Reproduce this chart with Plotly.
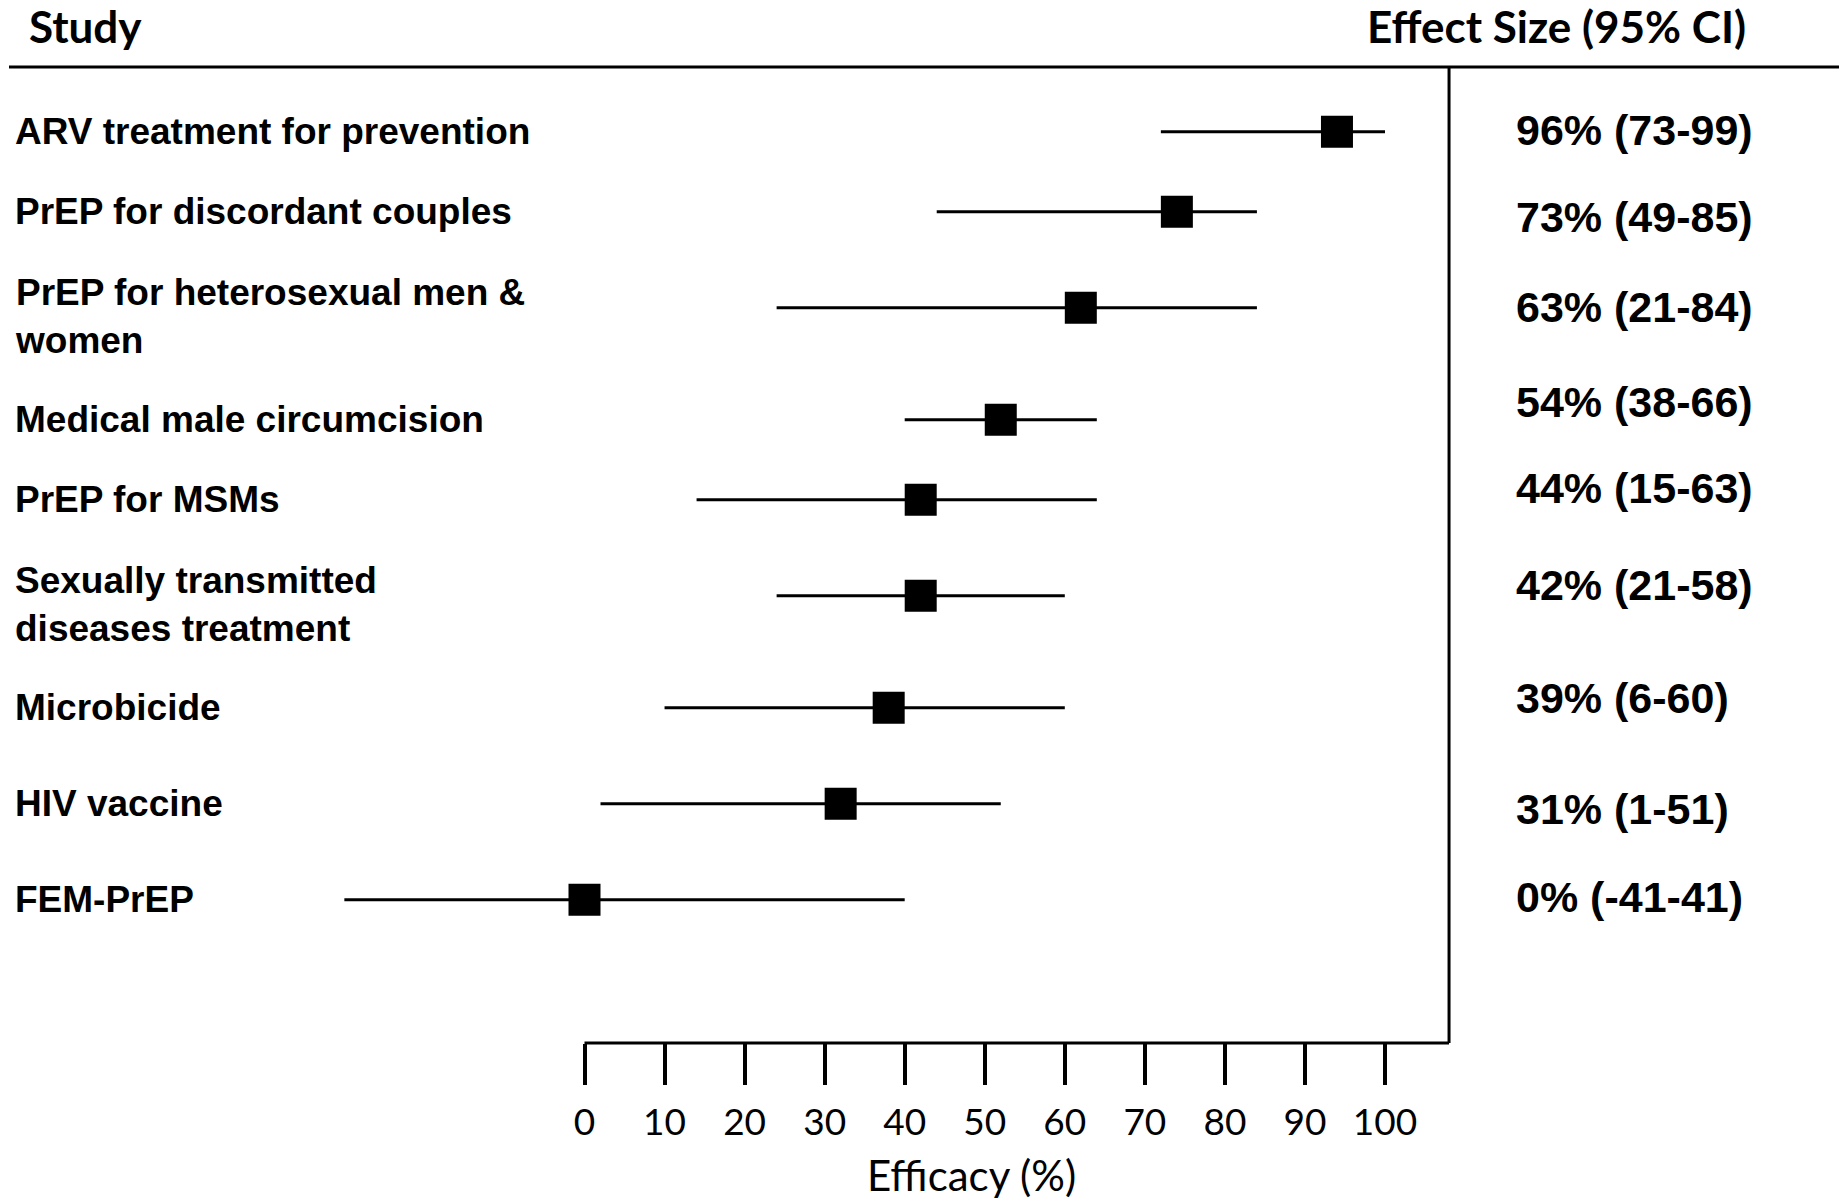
import plotly.graph_objects as go

# ---------------- data ----------------
studies = [
    "ARV treatment for prevention",
    "PrEP for discordant couples",
    "PrEP for heterosexual men &<br>women",
    "Medical male circumcision",
    "PrEP for MSMs",
    "Sexually transmitted<br>diseases treatment",
    "Microbicide",
    "HIV vaccine",
    "FEM-PrEP",
]
effect = [94, 74, 62, 52, 42, 42, 38, 32, 0]
ci_low = [72, 44, 24, 40, 14, 24, 10, 2, -30]
ci_high = [100, 84, 84, 64, 64, 60, 60, 52, 40]
effect_labels = [
    "96% (73-99)",
    "73% (49-85)",
    "63% (21-84)",
    "54% (38-66)",
    "44% (15-63)",
    "42% (21-58)",
    "39% (6-60)",
    "31% (1-51)",
    "0% (-41-41)",
]
row_pos = [0, 1, 2.2, 3.6, 4.6, 5.8, 7.2, 8.4, 9.6]
tick_values = [0, 10, 20, 30, 40, 50, 60, 70, 80, 90, 100]
x_title = "Efficacy (%)"
header_left = "Study"
header_right = "Effect Size (95% CI)"

# ---------------- layout geometry ----------------
W, H = 1839, 1204
x0_px = 584.5          # pixel of value 0
px_per_unit = 8.005    # pixels per 1 %
row0_px = 131.7        # pixel of first row
px_per_row = 80.0
axis_px = 1043         # pixel of the x axis line
header_px = 67         # pixel of header rule
frame_right = 108      # x value of the right vertical rule
effect_text_y = [-0.02, 1.07, 2.19, 3.38, 4.45, 5.67, 7.08, 8.47, 9.57]

x_range = [-x0_px / px_per_unit, (W - x0_px) / px_per_unit]
y_dom_bottom = (H - axis_px) / H
y_range = [(axis_px - row0_px) / px_per_row, -row0_px / px_per_row]
header_y = (H - header_px) / H

fig = go.Figure()

# CI lines
xs, ys = [], []
for lo, hi, r in zip(ci_low, ci_high, row_pos):
    xs += [lo, hi, None]
    ys += [r, r, None]
fig.add_trace(go.Scatter(x=xs, y=ys, mode="lines",
                         line=dict(color="black", width=3),
                         hoverinfo="skip", showlegend=False))
# point estimates
fig.add_trace(go.Scatter(x=effect, y=row_pos, mode="markers",
                         marker=dict(symbol="square", size=32, color="black",
                                     line=dict(width=0)),
                         showlegend=False))

shapes = [
    # x axis line
    dict(type="line", xref="x", yref="paper", x0=0, x1=frame_right,
         y0=y_dom_bottom, y1=y_dom_bottom, line=dict(color="black", width=3)),
    # right vertical rule
    dict(type="line", xref="x", yref="paper", x0=frame_right, x1=frame_right,
         y0=y_dom_bottom, y1=header_y, line=dict(color="black", width=3)),
    # header rule
    dict(type="line", xref="paper", yref="paper", x0=9 / W, x1=1,
         y0=header_y, y1=header_y, line=dict(color="black", width=3)),
]

label_font = dict(family="Liberation Sans, Arial", size=37, color="black", weight="bold")
effect_font = dict(family="Liberation Sans, Arial", size=43, color="black", weight="bold")
header_font = dict(family="Lato", size=44, color="black", weight="bold")

annotations = []
for s, r in zip(studies, row_pos):
    annotations.append(dict(text=s, x=13 / W, xref="paper", y=r, yref="y",
                            xanchor="left", yanchor="middle", align="left",
                            yshift=-9 if "<br>" in s else 0,
                            showarrow=False, font=label_font))
for t, r in zip(effect_labels, effect_text_y):
    annotations.append(dict(text=t, x=1514 / W, xref="paper", y=r, yref="y",
                            xanchor="left", yanchor="middle", align="left",
                            showarrow=False, font=effect_font))
annotations.append(dict(text=header_left, x=27 / W, xref="paper", y=(H - 26) / H,
                        yref="paper", xanchor="left", yanchor="middle",
                        showarrow=False, font=header_font))
annotations.append(dict(text=header_right, x=1748 / W, xref="paper", y=(H - 26) / H,
                        yref="paper", xanchor="right", yanchor="middle",
                        showarrow=False, font=header_font))
annotations.append(dict(text=x_title, x=971 / W, xref="paper", y=(H - 1175) / H,
                        yref="paper", xanchor="center", yanchor="middle",
                        showarrow=False, font=dict(family="Lato", size=42, color="black")))

fig.update_layout(
    width=W, height=H,
    margin=dict(l=0, r=0, t=0, b=0),
    paper_bgcolor="white", plot_bgcolor="white",
    showlegend=False,
    shapes=shapes,
    annotations=annotations,
    xaxis=dict(range=x_range, domain=[0, 1], anchor="y",
               tickmode="array", tickvals=tick_values,
               ticks="outside", ticklen=41, tickwidth=4, tickcolor="black",
               ticklabelstandoff=6,
               showline=False, showgrid=False, zeroline=False,
               tickfont=dict(family="Lato", size=37, color="black"),
               fixedrange=True),
    yaxis=dict(range=y_range, domain=[y_dom_bottom, 1],
               showticklabels=False, showgrid=False, zeroline=False,
               showline=False, ticks="", fixedrange=True),
)

fig.write_html("out.html", config={"displayModeBar": False},
               post_script="document.body.style.margin='0';")
